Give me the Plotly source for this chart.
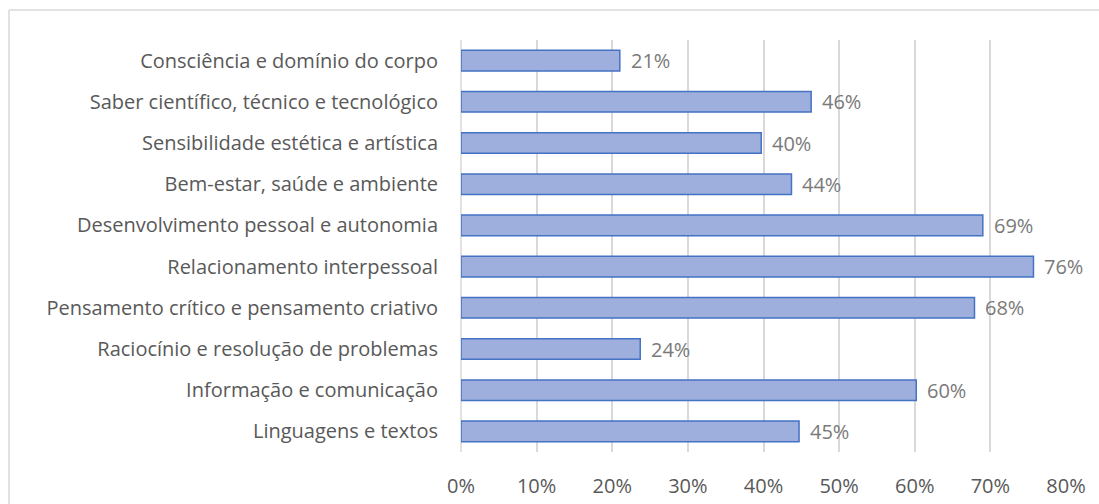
import plotly.graph_objects as go

categories = [
    "Consciência e domínio do corpo",
    "Saber científico, técnico e tecnológico",
    "Sensibilidade estética e artística",
    "Bem-estar, saúde e ambiente",
    "Desenvolvimento pessoal e autonomia",
    "Relacionamento interpessoal",
    "Pensamento crítico e pensamento criativo",
    "Raciocínio e resolução de problemas",
    "Informação e comunicação",
    "Linguagens e textos",
]
values = [0.21, 0.463, 0.397, 0.437, 0.69, 0.757, 0.679, 0.237, 0.602, 0.447]
tick_vals = [0, 0.1, 0.2, 0.3, 0.4, 0.5, 0.6, 0.7, 0.8]
tick_text = ["0%", "10%", "20%", "30%", "40%", "50%", "60%", "70%", "80%"]

FONT = "Open Sans"
FS = 20

W, H = 1099, 504
L, R, T, B = 461, 33, 40, 52
PW = W - L - R
PH = H - T - B

fig = go.Figure(go.Bar(
    x=values,
    y=categories,
    orientation="h",
    marker=dict(color="#9eafde", line=dict(color="#4472c4", width=1.5)),
    hoverinfo="skip",
))

for c, v in zip(categories, values):
    fig.add_annotation(
        x=v, y=c, xref="x", yref="y",
        text=f"{round(v*100):d}%", showarrow=False,
        xanchor="left", yanchor="middle", xshift=9,
        font=dict(family=FONT, size=FS, color="#7a7a7a"),
    )

bx0 = (9 - L) / PW
by1 = (H - B - 10) / PH

fig.update_layout(
    width=W, height=H,
    margin=dict(l=L, r=R, t=T, b=B, autoexpand=False),
    paper_bgcolor="white", plot_bgcolor="white",
    bargap=0.5,
    showlegend=False,
    font=dict(family=FONT, size=FS, color="#595959"),
    xaxis=dict(
        range=[0, 0.8], tickvals=tick_vals, ticktext=tick_text,
        showgrid=True, gridcolor="#d9d9d9", gridwidth=1.5,
        zeroline=False, showline=False, automargin=False,
        tickfont=dict(family=FONT, size=FS, color="#595959"),
        ticklabelstandoff=20,
    ),
    yaxis=dict(
        categoryorder="array", categoryarray=categories[::-1],
        showgrid=False, zeroline=False, showline=False, automargin=False,
        tickfont=dict(family=FONT, size=FS, color="#595959"),
        ticklabelstandoff=22,
    ),
    shapes=[
        dict(type="line", xref="paper", yref="paper",
             x0=bx0, x1=bx0, y0=-1.0, y1=by1,
             line=dict(color="#d9d9d9", width=1.5), layer="below"),
        dict(type="line", xref="paper", yref="paper",
             x0=bx0, x1=2.0, y0=by1, y1=by1,
             line=dict(color="#d9d9d9", width=1.5), layer="below"),
        dict(type="line", xref="paper", yref="paper",
             x0=0, x1=0, y0=0, y1=1,
             line=dict(color="#d9d9d9", width=1.5), layer="below"),
    ],
)

fig.write_html(
    "out.html",
    config={"displayModeBar": False},
    post_script="document.body.style.margin='0';document.body.style.overflow='hidden';",
)
